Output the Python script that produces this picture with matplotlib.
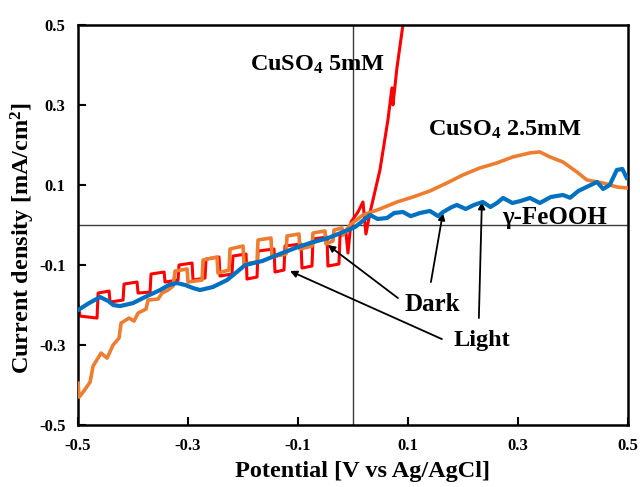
import matplotlib
matplotlib.use("Agg")
import matplotlib.pyplot as plt

plt.rcParams['font.family'] = ['Liberation Serif', 'DejaVu Serif']
plt.rcParams['font.weight'] = 'bold'
plt.rcParams['mathtext.fontset'] = 'custom'
plt.rcParams['mathtext.rm'] = 'Liberation Serif:bold'
plt.rcParams['mathtext.bf'] = 'Liberation Serif:bold'
plt.rcParams['mathtext.default'] = 'bf'

# CuSO4 5 mM (chopped light)
red_x = [-0.5, -0.4964, -0.4655, -0.4636, -0.4436, -0.4418, -0.4182, -0.4164,
         -0.3927, -0.3909, -0.3691, -0.3673, -0.3436, -0.3418, -0.3182, -0.3164,
         -0.2927, -0.2909, -0.2691, -0.2673, -0.2436, -0.2418, -0.22, -0.2182,
         -0.1945, -0.1927, -0.1745, -0.1727, -0.1436, -0.1418, -0.1255, -0.1236,
         -0.0945, -0.0927, -0.0745, -0.0727, -0.0473, -0.0455, -0.0255, -0.0236,
         -0.0127, -0.0091, -0.0036, 0.0091, 0.0182, 0.0236, 0.0309, 0.0491,
         0.0636, 0.0709, 0.0727, 0.08, 0.0909]
red_y = [-0.2, -0.2275, -0.2325, -0.17, -0.165, -0.1925, -0.1875, -0.1475,
         -0.1425, -0.17, -0.1675, -0.1225, -0.1175, -0.1425, -0.1375, -0.1,
         -0.095, -0.1375, -0.1325, -0.085, -0.08, -0.1275, -0.1225, -0.0775,
         -0.0725, -0.135, -0.13, -0.065, -0.06, -0.1175, -0.1125, -0.0525,
         -0.0475, -0.1075, -0.1025, -0.035, -0.03, -0.1025, -0.0975, -0.0275,
         -0.02, -0.07, 0.0075, 0.0325, 0.0575, -0.0225, 0.03, 0.1375,
         0.2625, 0.3425, 0.3, 0.3925, 0.5]

# CuSO4 2.5 mM
orange_x = [-0.5, -0.4982, -0.4909, -0.4782, -0.4727, -0.4582, -0.4473, -0.4364,
            -0.4255, -0.4218, -0.4073, -0.3982, -0.3909, -0.3764, -0.3727, -0.3545,
            -0.3473, -0.3364, -0.3273, -0.3236, -0.3018, -0.3, -0.2745, -0.2727,
            -0.2473, -0.2455, -0.2255, -0.2236, -0.2, -0.1982, -0.1745, -0.1727,
            -0.1491, -0.1473, -0.1218, -0.12, -0.0982, -0.0964, -0.0745, -0.0727,
            -0.0509, -0.0491, -0.0364, -0.0345, -0.02, -0.0182, -0.0055, 0.0182,
            0.0491, 0.08, 0.1091, 0.14, 0.1709, 0.2, 0.2309, 0.2618,
            0.2909, 0.3218, 0.34, 0.3582, 0.3818, 0.4073, 0.4255, 0.4545,
            0.48, 0.4982]
orange_y = [-0.395, -0.43, -0.4175, -0.3925, -0.3525, -0.32, -0.3325, -0.3,
            -0.2825, -0.245, -0.2325, -0.24, -0.22, -0.21, -0.1875, -0.185,
            -0.17, -0.1625, -0.1525, -0.115, -0.11, -0.1425, -0.1375, -0.0875,
            -0.08, -0.12, -0.1125, -0.06, -0.0525, -0.0975, -0.0925, -0.0375,
            -0.0325, -0.08, -0.0725, -0.0275, -0.0225, -0.06, -0.0525, -0.02,
            -0.015, -0.0475, -0.04, -0.0125, -0.0075, -0.025, 0.0, 0.025,
            0.04, 0.0575, 0.07, 0.085, 0.105, 0.125, 0.1425, 0.155,
            0.17, 0.18, 0.1825, 0.17, 0.1575, 0.1325, 0.1125, 0.105,
            0.095, 0.0925]

# gamma-FeOOH
blue_x = [-0.5, -0.48, -0.46, -0.445, -0.436, -0.4236, -0.4, -0.382,
          -0.351, -0.335, -0.32, -0.305, -0.291, -0.278, -0.255, -0.229,
          -0.196, -0.165, -0.138, -0.105, -0.078, -0.045, -0.018, 0.004,
          0.031, 0.045, 0.062, 0.075, 0.091, 0.105, 0.122, 0.14,
          0.155, 0.164, 0.18, 0.189, 0.205, 0.22, 0.236, 0.25,
          0.262, 0.273, 0.29, 0.305, 0.322, 0.34, 0.36, 0.382,
          0.395, 0.41, 0.425, 0.444, 0.455, 0.467, 0.48, 0.49, 0.498]
blue_y = [-0.2125, -0.195, -0.18, -0.19, -0.2, -0.2025, -0.195, -0.1825,
          -0.1625, -0.15, -0.145, -0.15, -0.1575, -0.1625, -0.155, -0.1375,
          -0.1, -0.09, -0.075, -0.0575, -0.045, -0.0325, -0.0175, -0.005,
          0.025, 0.015, 0.0175, 0.03, 0.0325, 0.022, 0.03, 0.035,
          0.022, 0.0325, 0.045, 0.05, 0.04, 0.05, 0.0575, 0.045,
          0.055, 0.0675, 0.055, 0.06, 0.0675, 0.055, 0.07, 0.075,
          0.068, 0.085, 0.095, 0.1075, 0.09, 0.1, 0.1375, 0.14, 0.1175]

ticks = [-0.5, -0.3, -0.1, 0.1, 0.3, 0.5]

fig = plt.figure(figsize=(6.4, 4.87), dpi=100)
ax = fig.add_axes([0.122, 0.127, 0.859, 0.822])

ax.axhline(0, color='#3a3a3a', lw=1.0, zorder=1)
ax.axvline(0, color='#3a3a3a', lw=1.0, zorder=1)

ax.plot(red_x, red_y, color='#ff0000', lw=2.2, zorder=2)
ax.plot(orange_x, orange_y, color='#ed7d31', lw=2.6, zorder=3)
ax.plot(blue_x, blue_y, color='#0070c0', lw=3.0, zorder=4)

ax.set_xlim(-0.5, 0.5)
ax.set_ylim(-0.5, 0.5)
ax.set_xticks(ticks)
ax.set_yticks(ticks)
ax.set_xticklabels([f'{t:.1f}' for t in ticks])
ax.set_yticklabels([f'{t:.1f}' for t in ticks])
ax.tick_params(direction='in', length=6, width=1.5, labelsize=12, pad=9)
for s in ax.spines.values():
    s.set_linewidth(1.8)

fig.text(0.567, 0.031, 'Potential [V vs Ag/AgCl]', ha='center', va='center',
         fontsize=17.5, fontweight='bold')
fig.text(0.036, 1 - 238 / 487, 'Current density [mA/cm$^2$]', ha='center',
         va='center', rotation=90, fontsize=17.5, fontweight='bold')

ax.text(-0.0636, 0.4, 'CuSO$_4$ 5mM', ha='center', va='center', fontsize=17.5)
ax.text(0.276, 0.2375, 'CuSO$_4$ 2.5mM', ha='center', va='center', fontsize=17.5)
ax.text(0.367, 0.0175, 'γ-FeOOH', ha='center', va='center', fontsize=18)
ax.text(0.145, -0.1975, 'Dark', ha='center', va='center', fontsize=18)
ax.text(0.2345, -0.2875, 'Light', ha='center', va='center', fontsize=17.5)

arrow = dict(arrowstyle='-|>', color='black', lw=1.3, mutation_scale=10,
             shrinkA=0, shrinkB=0)
ax.annotate('', xy=(-0.0455, -0.05), xytext=(0.0818, -0.1825), arrowprops=arrow)
ax.annotate('', xy=(0.1636, 0.03), xytext=(0.1418, -0.1425), arrowprops=arrow)
ax.annotate('', xy=(-0.1145, -0.115), xytext=(0.1618, -0.285), arrowprops=arrow)
ax.annotate('', xy=(0.2345, 0.0575), xytext=(0.229, -0.2325), arrowprops=arrow)

fig.savefig('out.png', dpi=100)
